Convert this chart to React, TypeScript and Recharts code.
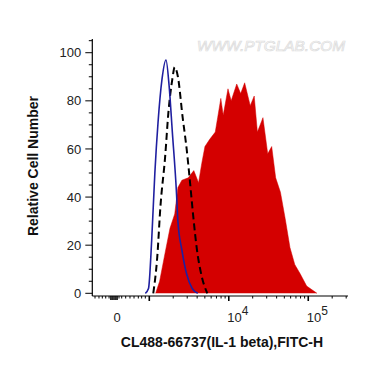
import React from 'react';
import { ComposedChart, Area, Line, XAxis, YAxis } from 'recharts';

// x values are display positions on the biexponential axis, in decades (3 = 10^3, 4 = 10^4, 5 = 10^5)
const isotypeCurve = [
  { x: 2.95, y: 0 }, { x: 2.99, y: 2 }, { x: 3.03, y: 22 }, { x: 3.07, y: 50 }, { x: 3.11, y: 71 },
  { x: 3.16, y: 89 }, { x: 3.21, y: 97 }, { x: 3.25, y: 86 }, { x: 3.29, y: 67 }, { x: 3.34, y: 43 },
  { x: 3.36, y: 30 }, { x: 3.41, y: 18 }, { x: 3.47, y: 8 }, { x: 3.54, y: 2 }, { x: 3.61, y: 0 },
];

const unstainedCurve = [
  { x: 3.05, y: 0 }, { x: 3.10, y: 15 }, { x: 3.14, y: 36 }, { x: 3.20, y: 57 }, { x: 3.24, y: 75 },
  { x: 3.29, y: 89 }, { x: 3.32, y: 94 }, { x: 3.36, y: 90 }, { x: 3.42, y: 73 }, { x: 3.47, y: 60 },
  { x: 3.51, y: 47 }, { x: 3.55, y: 33 }, { x: 3.60, y: 18 }, { x: 3.66, y: 7 }, { x: 3.73, y: 0 },
];

const stainedCurve = [
  { x: 3.08, y: 0 }, { x: 3.13, y: 5 }, { x: 3.20, y: 17 }, { x: 3.26, y: 27 }, { x: 3.32, y: 33 },
  { x: 3.36, y: 44 }, { x: 3.41, y: 47 }, { x: 3.49, y: 48 }, { x: 3.56, y: 51 }, { x: 3.62, y: 46 },
  { x: 3.66, y: 54 }, { x: 3.70, y: 61 }, { x: 3.76, y: 64 }, { x: 3.83, y: 67 }, { x: 3.86, y: 73 },
  { x: 3.90, y: 81 }, { x: 3.93, y: 74 }, { x: 3.99, y: 85 }, { x: 4.03, y: 80 }, { x: 4.10, y: 87 },
  { x: 4.15, y: 83 }, { x: 4.20, y: 87.5 }, { x: 4.27, y: 78 }, { x: 4.32, y: 82 }, { x: 4.36, y: 67 },
  { x: 4.43, y: 73 }, { x: 4.49, y: 58 }, { x: 4.54, y: 61 }, { x: 4.59, y: 48 }, { x: 4.65, y: 42 },
  { x: 4.71, y: 31 }, { x: 4.77, y: 19 }, { x: 4.83, y: 12 }, { x: 4.90, y: 8 }, { x: 4.98, y: 3 },
  { x: 5.11, y: 0 },
];

const zeroPosition = 2.594;
const decadeTicks = [3, 4, 5];
const decadeLabels: Record<number, string> = { 4: '4', 5: '5' };
const linearTicks = [2.317, 2.367, 2.409, 2.452, 2.494, 2.518, 2.543, 2.569, 2.594, 2.619, 2.653, 2.703, 2.757, 2.808, 2.862, 2.904, 2.95];
const boldTicks = [2.518, 2.543, 2.569, 2.594];
const minorMultipliers = [2, 3, 4, 5, 6, 7, 8, 9];
const yTicks = [0, 5, 10, 15, 20, 25, 30, 35, 40, 45, 50, 55, 60, 65, 70, 75, 80, 85, 90, 95, 100, 105];
const yLabels = [0, 20, 40, 60, 80, 100];

const xDomain: [number, number] = [2.283, 5.5];
const yDomain: [number, number] = [-1.12, 105.7];

const logMinor: number[] = [];
decadeTicks.forEach((d) => {
  minorMultipliers.forEach((k) => {
    const v = d + Math.log10(k);
    if (v < xDomain[1]) logMinor.push(Number(v.toFixed(4)));
  });
});
const xTicks = [...linearTicks, ...decadeTicks, ...logMinor].sort((a, b) => a - b);

const FONT = '"Liberation Sans", Arial, sans-serif';

function XTick(props: any) {
  const { x, y, payload } = props;
  const v = payload.value as number;
  const isDecade = decadeTicks.includes(v);
  const isBold = boldTicks.includes(v);
  const len = isDecade ? 5 : isBold ? 4 : 2.5;
  return (
    <g>
      <line x1={x} x2={x} y1={y} y2={y + len} stroke="#000" strokeWidth={isDecade || isBold ? 1.6 : 1} />
      {v === zeroPosition && (
        <text x={x} y={y + 25.5} textAnchor="middle" fontSize={13} fontFamily={FONT} fill="#222">0</text>
      )}
      {isDecade && decadeLabels[v] && (
        <text x={x - 1.5} y={y + 25.5} textAnchor="start" fontSize={13} fontFamily={FONT} fill="#222">
          10
          <tspan dy={-7} fontSize={12}>{decadeLabels[v]}</tspan>
        </text>
      )}
    </g>
  );
}

function YTick(props: any) {
  const { x, y, payload } = props;
  const v = payload.value as number;
  const isMajor = yLabels.includes(v);
  const len = isMajor ? 7 : 3.5;
  return (
    <g>
      <line x1={x - len} x2={x} y1={y} y2={y} stroke="#000" strokeWidth={1} />
      {isMajor && (
        <text x={x - 11} y={y + 4.6} textAnchor="end" fontSize={13} fontFamily={FONT} fill="#222">{v}</text>
      )}
    </g>
  );
}

export default function App() {
  return (
    <div style={{ position: 'absolute', left: 0, top: 0, width: 370, height: 367, background: '#fff' }}>
      <ComposedChart
        width={370}
        height={367}
        margin={{ top: 39, right: 22, bottom: 0, left: 0 }}
      >
        <XAxis
          xAxisId="main"
          type="number"
          dataKey="x"
          domain={xDomain}
          allowDataOverflow
          ticks={xTicks}
          interval={0}
          tick={<XTick />}
          tickLine={false}
          tickSize={0}
          tickMargin={0}
          height={71}
          axisLine={{ stroke: '#000', strokeWidth: 1.2 }}
        />
        <XAxis
          xAxisId="top"
          orientation="top"
          type="number"
          domain={xDomain}
          allowDataOverflow
          tick={false}
          tickLine={false}
          height={0}
          axisLine={{ stroke: '#000', strokeWidth: 1.2 }}
        />
        <YAxis
          yAxisId="main"
          type="number"
          domain={yDomain}
          allowDataOverflow
          ticks={yTicks}
          interval={0}
          tick={<YTick />}
          tickLine={false}
          tickSize={0}
          tickMargin={0}
          width={92.3}
          axisLine={{ stroke: '#000', strokeWidth: 1.2 }}
        />
        <YAxis
          yAxisId="right"
          orientation="right"
          type="number"
          domain={yDomain}
          allowDataOverflow
          tick={false}
          tickLine={false}
          width={0}
          axisLine={{ stroke: '#000', strokeWidth: 1.2 }}
        />
        <Area
          xAxisId="main"
          yAxisId="main"
          data={stainedCurve}
          dataKey="y"
          type="linear"
          fill="#d40000"
          fillOpacity={1}
          stroke="#d40000"
          strokeWidth={0.5}
          isAnimationActive={false}
        />
        <Line
          xAxisId="main"
          yAxisId="main"
          data={unstainedCurve}
          dataKey="y"
          type="monotone"
          stroke="#000"
          strokeWidth={2}
          strokeDasharray="7 4"
          dot={false}
          isAnimationActive={false}
        />
        <Line
          xAxisId="main"
          yAxisId="main"
          data={isotypeCurve}
          dataKey="y"
          type="monotone"
          stroke="#1f1fa0"
          strokeWidth={1.6}
          dot={false}
          isAnimationActive={false}
        />
      </ComposedChart>
      <svg width={370} height={367} style={{ position: 'absolute', left: 0, top: 0, pointerEvents: 'none' }}>
        <text
          x={197}
          y={51}
          fontSize={14}
          fontStyle="italic"
          fontFamily={FONT}
          fill="#ffffff"
          stroke="#dcdcdc"
          strokeWidth={0.7}
          textLength={148}
          lengthAdjust="spacingAndGlyphs"
        >
          WWW.PTGLAB.COM
        </text>
        <text
          x={222}
          y={347}
          textAnchor="middle"
          fontSize={14}
          fontWeight="bold"
          fontFamily={FONT}
          fill="#111"
        >
          CL488-66737(IL-1 beta),FITC-H
        </text>
        <text
          transform="translate(38,166) rotate(-90)"
          textAnchor="middle"
          fontSize={14}
          fontWeight="bold"
          fontFamily={FONT}
          fill="#111"
        >
          Relative Cell Number
        </text>
      </svg>
    </div>
  );
}
